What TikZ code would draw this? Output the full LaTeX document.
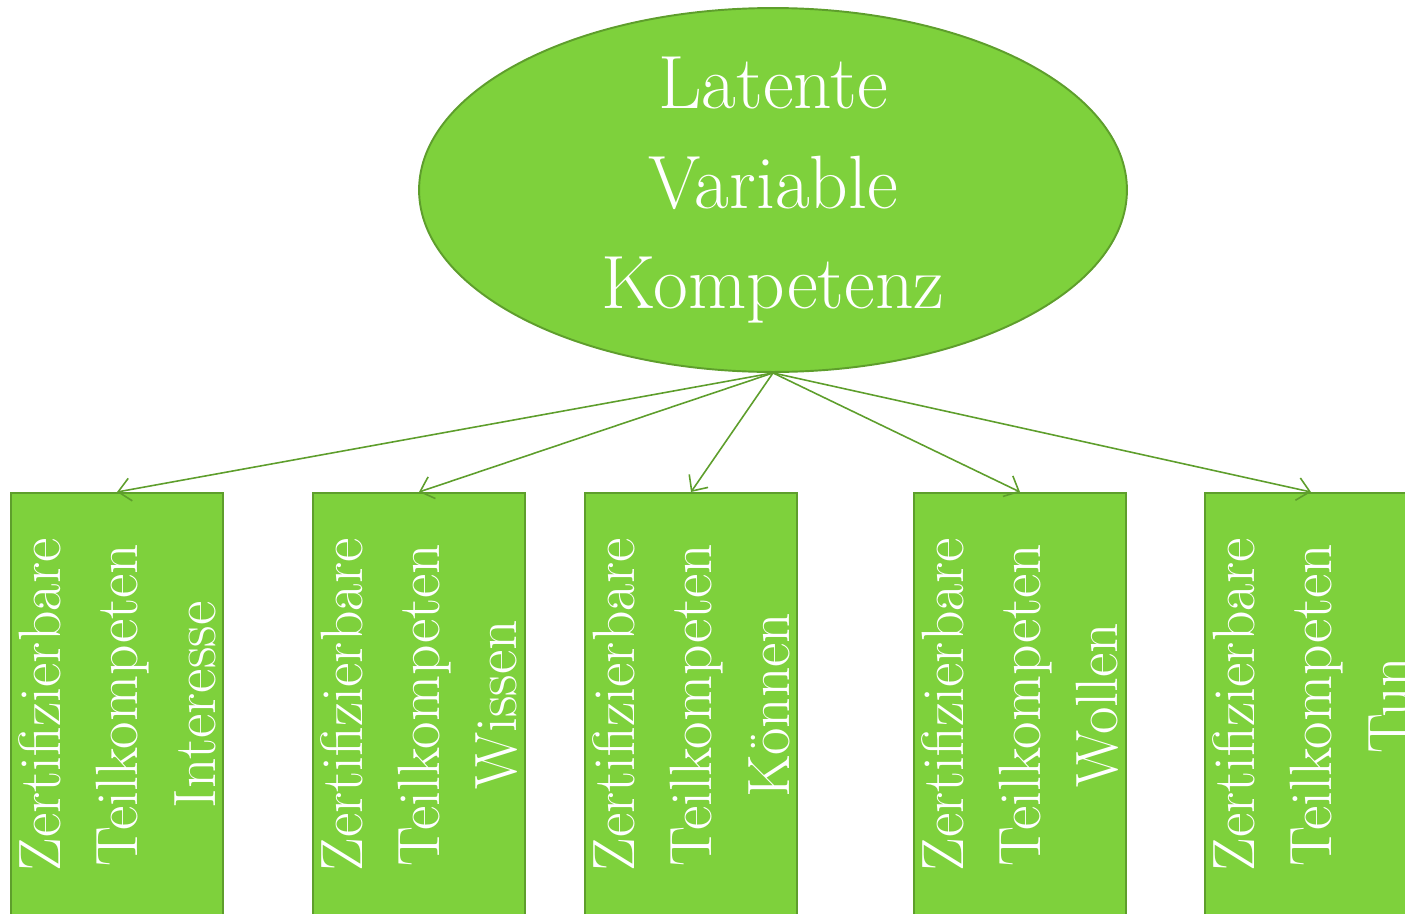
\documentclass[tikz,border=0pt]{standalone}
\usepackage{tikz}
\usetikzlibrary{arrows.meta,positioning,shapes.geometric}
\definecolor{leaf}{HTML}{7ED13C}
\definecolor{leafdark}{HTML}{5E9E2C}

\begin{document}
\begin{tikzpicture}[x=0.02cm,y=-0.02cm,
  latent/.style={ellipse,draw=leafdark,fill=leaf,line width=1.1pt,minimum width=14.16cm,minimum height=7.28cm,inner sep=-8pt,
    text=white,align=center,font=\fontsize{43}{57}\selectfont},
  part/.style={rectangle,draw=leafdark,fill=leaf,line width=1.1pt,rotate=90,anchor=east,minimum width=8.48cm,minimum height=4.24cm,
    inner sep=0pt,text=white,align=center,font=\fontsize{34}{44}\selectfont},
  link/.style={-{Straight Barb[length=7pt,width=13pt]},leafdark,line width=0.9pt}]
\useasboundingbox (0,0) rectangle (1405,913);
\clip (0,0) rectangle (1405,913);
\node[latent] (lat) at (773,190) {\raisebox{-3pt}{\parbox{9cm}{\centering Latente\\Variable\\Kompetenz}}};
\foreach \x/\n/\t in {117/int/Interesse,419/wis/Wissen,691/koe/K\"onnen,1020/wol/Wollen,1311/tun/Tun}{
  \node[part] (\n) at (\x,492) {Zertifizierbare\\Teilkompeten\\\t};
  \draw[link] (lat.south) -- (\n.east);
}
\end{tikzpicture}
\end{document}
